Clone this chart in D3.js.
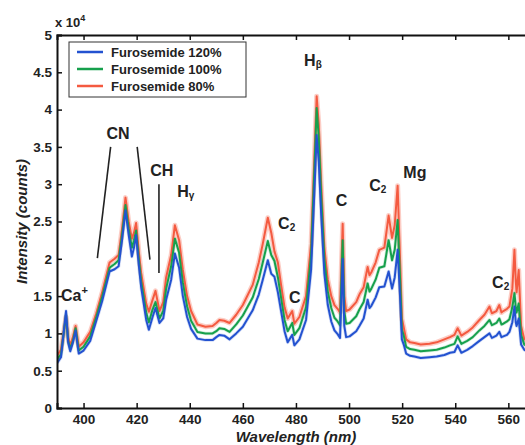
<!DOCTYPE html>
<html><head><meta charset="utf-8">
<script src="https://cdn.jsdelivr.net/npm/d3@7"></script>
<style>
html,body{margin:0;padding:0;background:#fff;}
text{font-family:Arial,"Liberation Sans",Helvetica,sans-serif;}
</style></head>
<body><svg id="c" width="525" height="445"></svg>
<script>
const wavelength = [390,391.5,393.4,394.2,395.0,396.0,397.0,398.2,400,402.5,404.8,407,409.8,411.7,413.2,414.5,415.8,417,418.2,419.0,419.8,420.8,421.7,423.6,424.6,426,427.1,428.6,430,431.1,433,434.4,436,437.4,439,440.5,442.9,445.9,448.6,450,451.2,453,455.0,457.5,460.0,463.7,466,467.5,469.4,470.7,471.9,473.2,474.4,475.7,476.9,478.6,479.4,481.3,483.8,485.7,487.0,487.8,488.6,489.5,490.7,492.0,493.3,494.5,495.7,496.6,497.6,498.2,498.9,500.2,502.7,503.9,505.5,507.0,507.7,508.4,510,511.4,513.3,514.9,516.2,517.2,518.3,519.2,519.9,520.6,521.5,523,524.6,527,530.3,533,535.9,538,539.7,540.9,542.3,544.5,546.6,549.1,551,552.9,553.8,554.4,555.5,556.6,557.4,558.1,559.5,560.4,561.5,562.3,562.8,563.1,563.9,564.8,566.0,568,572];
// intensities in units of 1e4 counts
const furo80 = [0.70,0.78,1.22,0.95,0.84,0.95,1.10,0.82,0.88,1.02,1.27,1.55,1.95,2.00,2.05,2.40,2.82,2.50,2.27,2.35,2.48,2.10,1.81,1.40,1.29,1.45,1.57,1.30,1.42,1.75,2.05,2.45,2.25,1.85,1.50,1.30,1.12,1.09,1.10,1.14,1.18,1.17,1.14,1.25,1.38,1.65,1.95,2.20,2.55,2.35,2.10,1.95,1.65,1.35,1.20,1.30,1.13,1.22,1.50,2.20,3.40,4.18,3.80,3.00,2.15,1.72,1.50,1.38,1.33,1.28,2.47,1.50,1.30,1.32,1.42,1.52,1.62,1.89,1.78,1.82,1.95,2.12,2.15,2.58,2.28,2.45,2.98,2.00,1.20,1.08,0.92,0.88,0.87,0.85,0.86,0.88,0.92,0.95,0.98,1.07,0.97,1.02,1.08,1.18,1.25,1.36,1.27,1.28,1.30,1.38,1.28,1.30,1.33,1.36,1.60,2.12,1.70,1.55,1.85,1.10,0.92,0.90,0.88];
const furo100 = [0.65,0.72,1.25,0.90,0.79,0.90,1.07,0.77,0.82,0.96,1.22,1.49,1.88,1.93,1.98,2.32,2.72,2.40,2.15,2.25,2.38,2.00,1.70,1.28,1.15,1.32,1.42,1.20,1.30,1.60,1.90,2.27,2.08,1.68,1.36,1.17,1.02,1.00,1.00,1.03,1.07,1.06,1.02,1.12,1.24,1.48,1.73,1.95,2.24,2.05,1.97,1.75,1.48,1.18,1.03,1.14,0.98,1.07,1.35,2.05,3.25,4.02,3.62,2.85,2.00,1.56,1.34,1.21,1.16,1.11,2.25,1.30,1.13,1.14,1.23,1.32,1.42,1.67,1.56,1.60,1.72,1.88,1.90,2.25,1.98,2.12,2.52,1.75,1.05,0.97,0.82,0.79,0.78,0.76,0.77,0.78,0.81,0.84,0.86,0.96,0.86,0.90,0.95,1.04,1.10,1.18,1.11,1.12,1.14,1.20,1.12,1.13,1.16,1.19,1.35,1.54,1.35,1.28,1.40,0.98,0.85,0.82,0.80];
const furo120 = [0.60,0.68,1.30,0.88,0.76,0.88,1.04,0.73,0.77,0.90,1.17,1.43,1.83,1.86,1.90,2.25,2.65,2.32,2.03,2.15,2.32,1.92,1.62,1.18,1.05,1.22,1.34,1.14,1.20,1.45,1.72,2.07,1.88,1.50,1.22,1.06,0.93,0.91,0.91,0.95,0.98,0.97,0.92,1.00,1.09,1.31,1.52,1.72,1.98,1.80,1.76,1.55,1.30,1.03,0.88,0.98,0.84,0.92,1.18,1.85,2.95,3.66,3.30,2.60,1.80,1.38,1.16,1.04,0.99,0.94,2.00,1.10,0.95,0.96,1.03,1.10,1.20,1.45,1.34,1.37,1.48,1.62,1.63,1.83,1.60,1.75,2.12,1.50,0.92,0.85,0.73,0.70,0.69,0.67,0.68,0.69,0.71,0.74,0.75,0.84,0.74,0.78,0.83,0.90,0.95,1.00,0.94,0.95,0.97,1.02,0.95,0.96,0.98,1.02,1.15,1.36,1.15,1.10,1.20,0.85,0.78,0.74,0.72];
const seriesNames = ["Furosemide 120%","Furosemide 100%","Furosemide 80%"];
const seriesColors = ["#2352d0","#16a04c","#f45a40"];
const xTicks = [400,420,440,460,480,500,520,540,560];
const yTicks = [0,0.5,1,1.5,2,2.5,3,3.5,4,4.5,5];

// annotations: [label, sub/sup, kind, wavelength, intensity, anchor]
const labels = [
  ["Ca","+","sup",391.5,1.43,"start"],
  ["CN","","",413.0,3.61,"middle"],
  ["CH","","",429.5,3.11,"middle"],
  ["H","\u03b3","sub",438.5,2.83,"middle"],
  ["C","2","sub",476.5,2.40,"middle"],
  ["C","","",479.6,1.41,"middle"],
  ["H","\u03b2","sub",486.4,4.58,"middle"],
  ["C","","",497.2,2.71,"middle"],
  ["C","2","sub",510.8,2.91,"middle"],
  ["Mg","","",524.8,3.08,"middle"],
  ["C","2","sub",557.1,1.61,"middle"]
];
const pointerLines = [[410.2,3.50,405.2,2.01],[420.2,3.50,425.0,1.99],[428.4,3.00,428.4,1.81]];

const svg = d3.select("#c");
const mLeft = 57, mTop = 35, mBottom = 408;
const x = d3.scaleLinear().domain([390,600]).range([mLeft, mLeft + 210*2.655]);
const y = d3.scaleLinear().domain([0,5]).range([mBottom, mTop]);

svg.append("defs").append("clipPath").attr("id","clip")
  .append("rect").attr("x",mLeft).attr("y",mTop).attr("width",600).attr("height",mBottom-mTop);

const g = svg.append("g").attr("clip-path","url(#clip)");
const line = d3.line().x((d,i)=>x(wavelength[i])).y(d=>y(d));
const data = [furo80, furo100, furo120];
const cols = [seriesColors[2], seriesColors[1], seriesColors[0]];
data.forEach((s,k)=>{
  g.append("path").attr("d",line(s)).attr("fill","none")
   .attr("stroke",cols[k]).attr("stroke-width",k===0?5:3.5).attr("stroke-opacity",k===0?0.3:0.2)
   .attr("stroke-linejoin","round");
});
data.forEach((s,k)=>{
  g.append("path").attr("d",line(s)).attr("fill","none")
   .attr("stroke",cols[k]).attr("stroke-width",2).attr("stroke-linejoin","round");
});

// axes
const fontTick = "bold 13.5px Arial, 'Liberation Sans', sans-serif";
const xAxis = d3.axisBottom(x).tickValues(xTicks).tickSize(-5).tickPadding(6).tickFormat(d3.format("d"));
const xa = svg.append("g").attr("transform",`translate(0,${mBottom})`).call(xAxis);
const xTop = d3.axisTop(x).tickValues(xTicks).tickSize(-5).tickFormat("");
const xt = svg.append("g").attr("transform",`translate(0,${mTop})`).call(xTop);
const yAxis = d3.axisLeft(y).tickValues(yTicks).tickSize(-5).tickPadding(5).tickFormat(d=>d===0?"0":d3.format("")(d));
const ya = svg.append("g").attr("transform",`translate(${mLeft},0)`).call(yAxis);
[xa,xt,ya].forEach(a=>{
  a.select(".domain").attr("stroke","#111").attr("stroke-width",2);
  a.selectAll(".tick line").attr("stroke","#111").attr("stroke-width",1.5);
  a.selectAll("text").style("font",fontTick).attr("fill","#222");
});

// exponent label
const ex = svg.append("text").attr("x",x(390)-2).attr("y",y(5)-8).attr("fill","#222")
  .style("font","bold 13px Arial, 'Liberation Sans', sans-serif");
ex.append("tspan").text("x 10");
ex.append("tspan").text("4").attr("dy",-6).style("font-size","9px");

// axis titles
svg.append("text").attr("x",(x(400)+x(560))/2).attr("y",442).attr("text-anchor","middle")
  .attr("fill","#222").style("font","bold italic 15px Arial, 'Liberation Sans', sans-serif").text("Wavelength (nm)");
svg.append("text").attr("transform",`translate(27,${(mTop+mBottom)/2}) rotate(-90)`).attr("text-anchor","middle")
  .attr("fill","#222").style("font","bold italic 15px Arial, 'Liberation Sans', sans-serif").text("Intensity (counts)");

// annotations
labels.forEach(([t,s,kind,wx,wy,anchor])=>{
  const tx = svg.append("text").attr("x",x(wx)).attr("y",y(wy)).attr("text-anchor",anchor)
    .attr("fill","#222").style("font","bold 16px Arial, 'Liberation Sans', sans-serif");
  tx.append("tspan").text(t);
  if (s) {
    if (kind==="sup") tx.append("tspan").text(s).attr("dy",-7).style("font-size","11px");
    else tx.append("tspan").text(s).attr("dy",2).style("font-size","10px");
  }
});
pointerLines.forEach(([a,b,c,d])=>{
  svg.append("line").attr("x1",x(a)).attr("y1",y(b)).attr("x2",x(c)).attr("y2",y(d))
    .attr("stroke","#222").attr("stroke-width",1.6);
});

// legend
const lg = svg.append("g");
lg.append("rect").attr("x",69).attr("y",42).attr("width",177).attr("height",55)
  .attr("fill","#fff").attr("stroke","#333").attr("stroke-width",1);
seriesNames.forEach((n,i)=>{
  const yy = 52 + i*17;
  lg.append("line").attr("x1",77).attr("x2",103).attr("y1",yy).attr("y2",yy)
    .attr("stroke",seriesColors[i]).attr("stroke-width",2.5);
  lg.append("text").attr("x",111).attr("y",yy+4.5).attr("fill","#222")
    .style("font","bold 13px Arial, 'Liberation Sans', sans-serif").text(n);
});
</script></body></html>
